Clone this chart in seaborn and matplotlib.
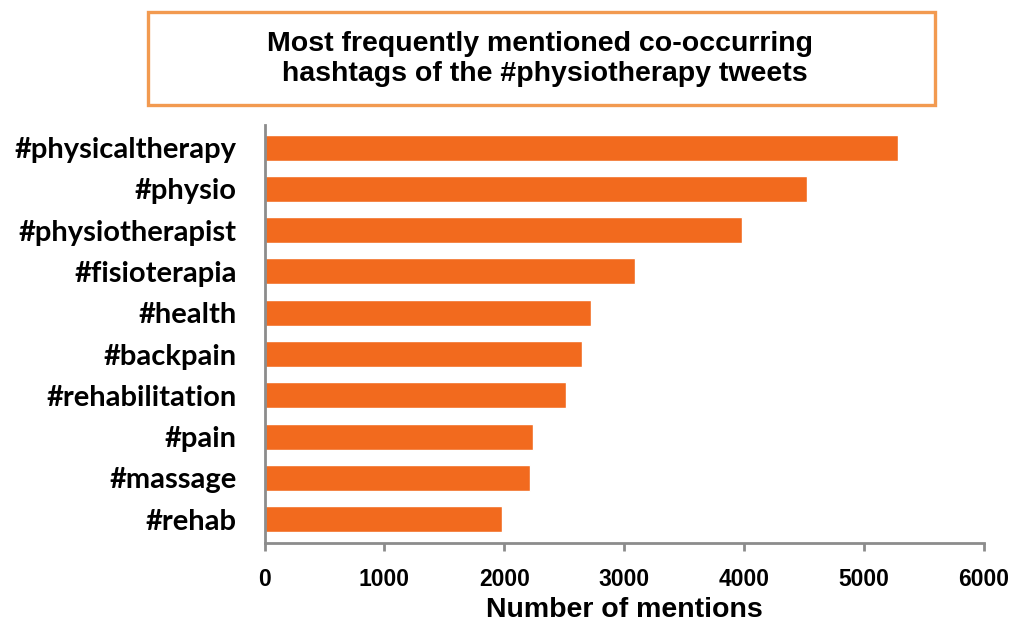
import matplotlib
matplotlib.use("Agg")
import matplotlib.pyplot as plt
from matplotlib.patches import Rectangle
import seaborn as sns
import pandas as pd

hashtags = ["#physicaltherapy", "#physio", "#physiotherapist", "#fisioterapia",
            "#health", "#backpain", "#rehabilitation", "#pain", "#massage", "#rehab"]
mentions = [5285, 4530, 3980, 3095, 2723, 2645, 2517, 2236, 2215, 1983]
x_ticks = [0, 1000, 2000, 3000, 4000, 5000, 6000]

df = pd.DataFrame({"hashtag": hashtags, "mentions": mentions})

sns.set_theme(style="white")
plt.rcParams["font.family"] = ["Liberation Sans", "DejaVu Sans"]
plt.rcParams["text.color"] = "black"
plt.rcParams["axes.labelcolor"] = "black"
plt.rcParams["xtick.labelcolor"] = "black"
plt.rcParams["ytick.labelcolor"] = "black"

bar_color = "#F26A1E"
axis_gray = "#8C8C8C"

fig = plt.figure(figsize=(10.14, 6.26), dpi=100)
ax = fig.add_axes([0.261, 0.1326, 0.709, 0.6677])

sns.barplot(data=df, x="mentions", y="hashtag", orient="h", color=bar_color,
            width=0.63, saturation=1, ax=ax)

ax.set_xlim(0, 6000)
ax.set_ylim(9.58, -0.55)
ax.set_xticks(x_ticks)
ax.set_xticklabels([str(t) for t in x_ticks], fontsize=16.5, fontweight="bold",
                   color="black")
ax.set_yticks(range(len(hashtags)))
ax.set_yticklabels(hashtags, fontsize=21, fontweight="bold", color="black",
                   family=["Lato", "DejaVu Sans"])
ax.set_ylabel("")
ax.set_xlabel("Number of mentions", fontsize=20.5, fontweight="bold",
              color="black", labelpad=4)

for side in ("top", "right"):
    ax.spines[side].set_visible(False)
for side in ("left", "bottom"):
    ax.spines[side].set_color(axis_gray)
    ax.spines[side].set_linewidth(2)

ax.tick_params(axis="x", which="major", direction="out", length=6, width=2,
               color=axis_gray, pad=12, bottom=True)
ax.tick_params(axis="y", which="major", length=0, pad=20)

# Title framed by an orange box
fig.patches.append(Rectangle((0.146, 0.832), 0.776, 0.149, transform=fig.transFigure,
                             fill=False, edgecolor="#F29A50", linewidth=2.4))
fig.text(0.533, 0.906, "Most frequently mentioned co-occurring\n hashtags of the #physiotherapy tweets",
         ha="center", va="center", fontsize=20.5, fontweight="bold",
         linespacing=1.2, color="black")

fig.savefig("out.png", dpi=100)
